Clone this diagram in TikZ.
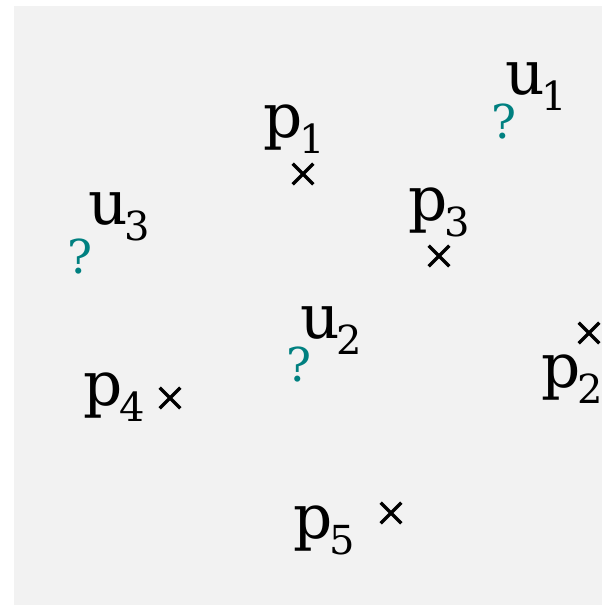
\documentclass[tikz,border=0pt]{standalone}
\usepackage{fontspec}
\setmainfont{DejaVu Serif}
\usetikzlibrary{shapes.misc}
\definecolor{bggray}{HTML}{F2F2F2}
\definecolor{qteal}{HTML}{008080}
\newcommand{\sublbl}[2]{#1\kern-2.5pt\raisebox{-12pt}{\fontsize{30}{30}\selectfont #2}}

\begin{document}
\begin{tikzpicture}[
    x=0.75pt, y=-0.75pt,
    lbl/.style={inner sep=0pt, anchor=base west, font=\fontsize{46}{46}\selectfont},
    qmark/.style={inner sep=0pt, anchor=base, text=qteal, font=\fontsize{35}{35}\selectfont},
    xmark/.style={cross out, draw, line width=2.5pt, minimum size=13pt, inner sep=0pt}
]
\useasboundingbox (0,0) rectangle (602,605);
\fill[bggray] (14,6) rectangle (602,605);

% known points
\node[lbl] (lp1) at (263,138) {\sublbl{p}{1}};
\node[xmark] (xp1) at (303,174) {};
\node[lbl] (lp2) at (541,387) {\sublbl{p}{2}};
\node[xmark] (xp2) at (589,333) {};
\node[lbl] (lp3) at (408,221) {\sublbl{p}{3}};
\node[xmark] (xp3) at (439,256) {};
\node[lbl] (lp4) at (83,405) {\sublbl{p}{4}};
\node[xmark] (xp4) at (170,398) {};
\node[lbl] (lp5) at (293,538) {\sublbl{p}{5}};
\node[xmark] (xp5) at (391,513) {};

% unknown points
\node[lbl] (lu1) at (505,95) {\sublbl{u}{1}};
\node[qmark] (qu1) at (504,139) {?};
\node[lbl] (lu2) at (300,338) {\sublbl{u}{2}};
\node[qmark] (qu2) at (299,381) {?};
\node[lbl] (lu3) at (88,225) {\sublbl{u}{3}};
\node[qmark] (qu3) at (80,273) {?};
\end{tikzpicture}
\end{document}
